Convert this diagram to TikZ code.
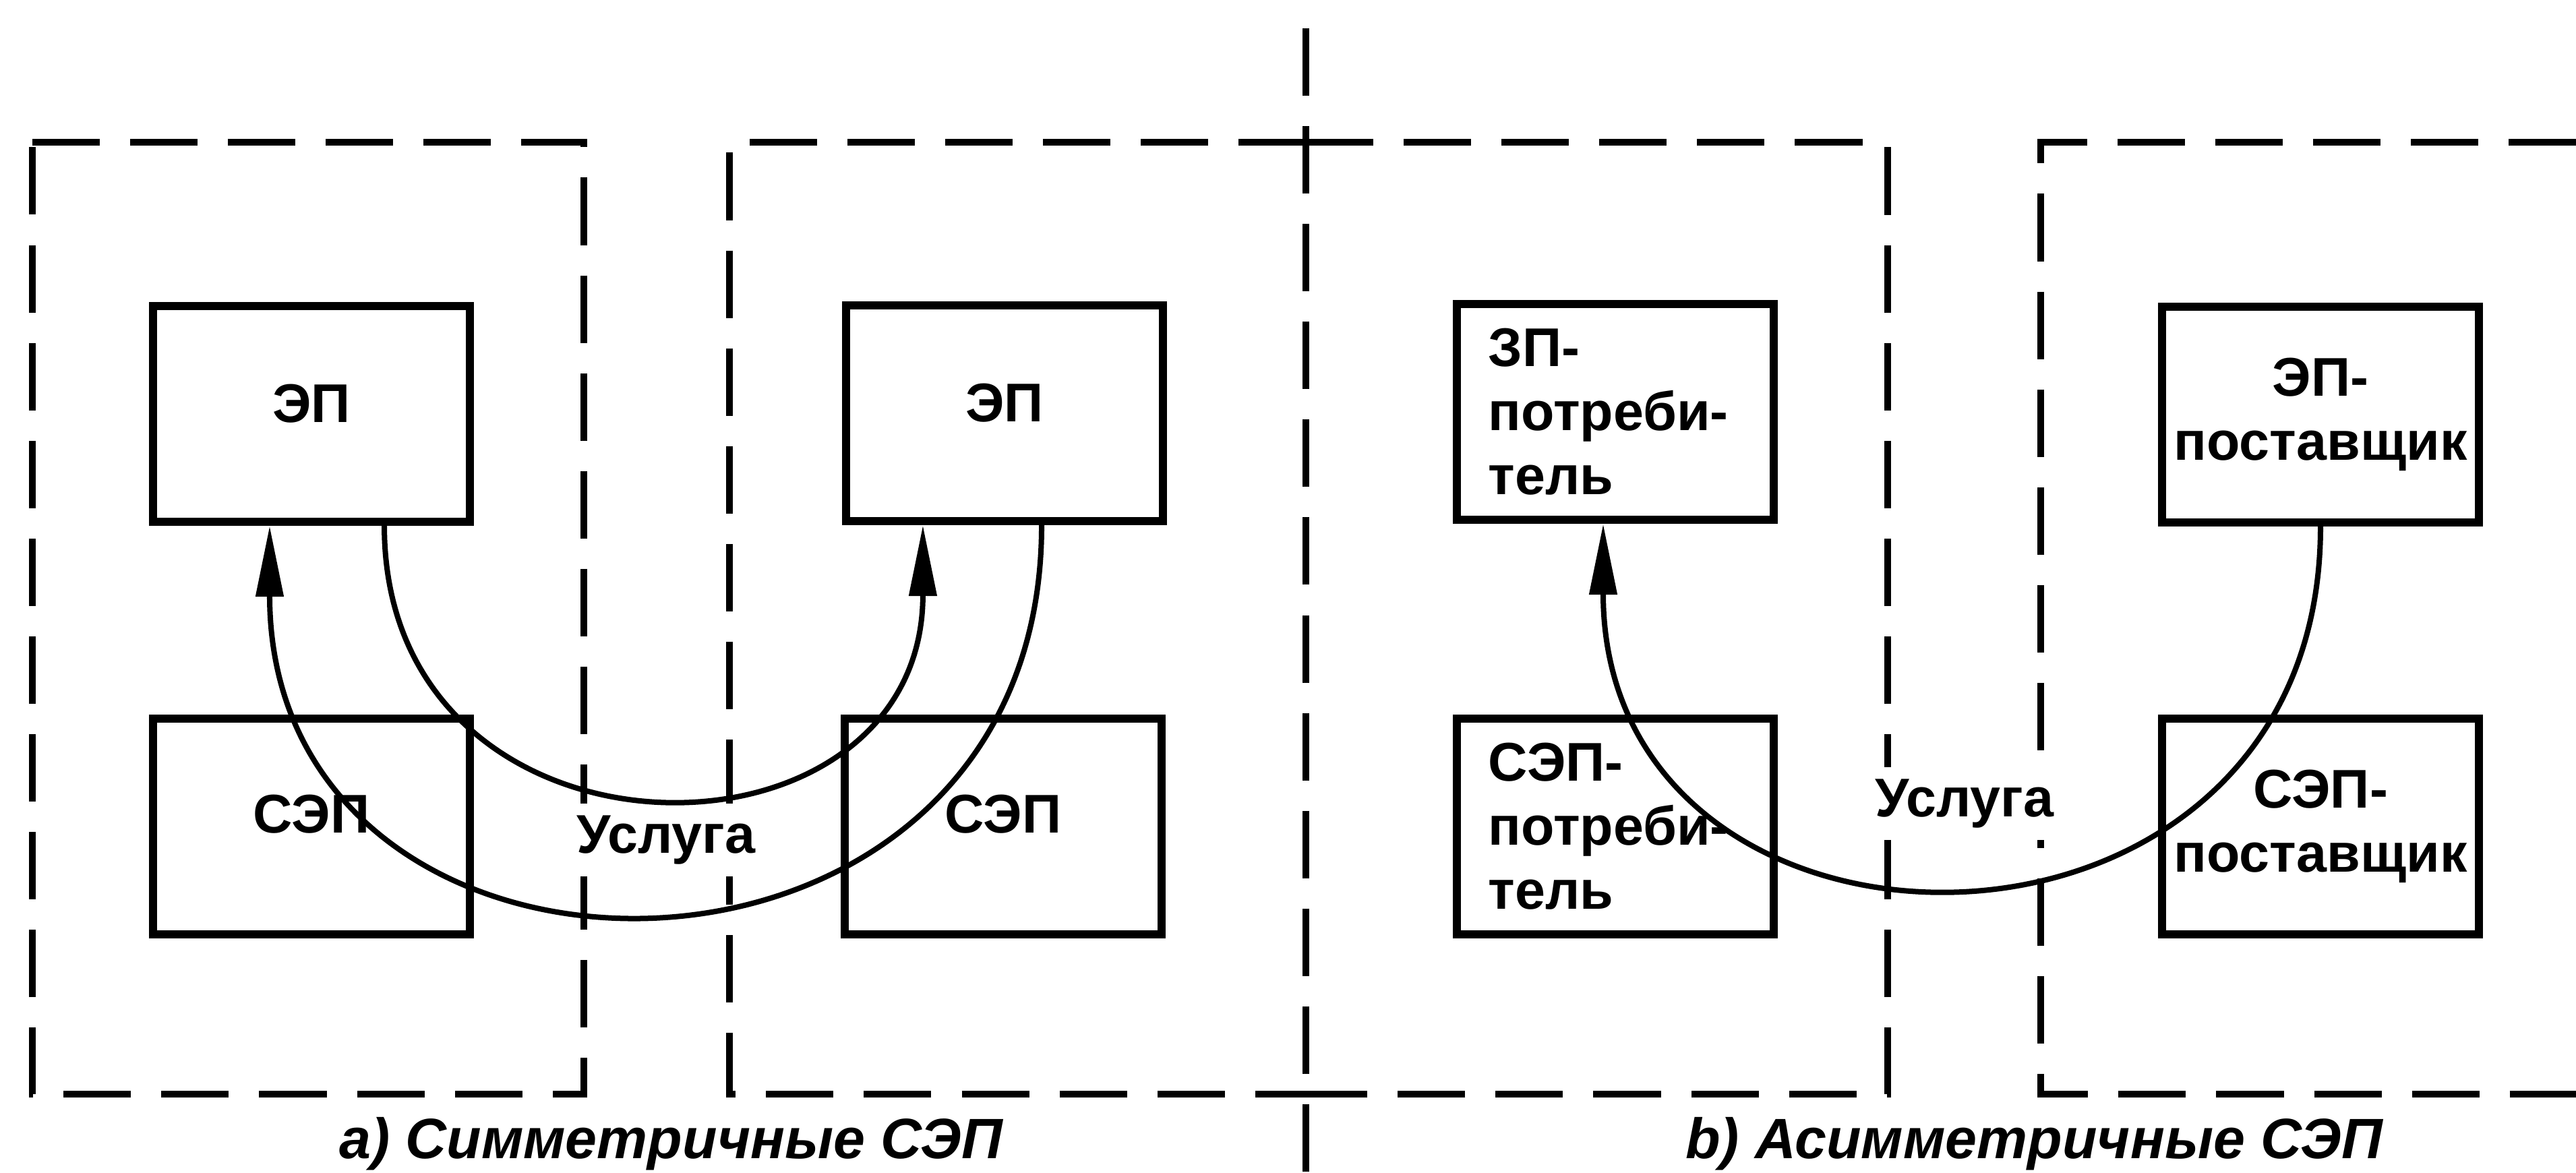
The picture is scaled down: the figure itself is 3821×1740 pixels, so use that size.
\documentclass[tikz,border=0pt]{standalone}
\usepackage{fontspec}
\setmainfont{Liberation Sans}
\usetikzlibrary{arrows.meta}

\begin{document}
\begin{tikzpicture}[x=0.01cm, y=0.01cm,
    blk/.style={draw, line width=0.12cm, minimum width=4.7cm, minimum height=3.2cm,
      inner sep=0pt, font=\bfseries\fontsize{23}{27}\selectfont},
    area/.style={line width=0.1cm, dash pattern=on 1cm off 0.45cm},
    svc/.style={line width=0.08cm, -{Triangle[length=1.05cm,width=0.4cm]}},
    lbl/.style={fill=white, inner xsep=2pt, inner ysep=5pt,
      font=\bfseries\fontsize{23}{27}\selectfont},
    capt/.style={font=\bfseries\itshape\fontsize{24}{29}\selectfont}]
        \useasboundingbox (0,0) rectangle (3821,-1740);

        \draw[area] (48,-211) -- (866,-211) -- (866,-1623) -- (48,-1623) -- cycle;
        \draw[area] (1937,-42) -- (1937,-1740);
        \draw[area] (1937,-211) -- (1082,-211) -- (1082,-1623) -- (1937,-1623);
        \draw[area] (1937,-211) -- (2800,-211) -- (2800,-1623) -- (1937,-1623);
        \draw[area] (3821,-211) -- (3027,-211) -- (3027,-1623) -- (3821,-1623);

        \node[blk, text depth=0.32cm] (ep1) at (462,-614) {ЭП};
        \node[blk, text depth=0.38cm] (sep1) at (462,-1226) {СЭП};
        \node[blk, text depth=0.32cm] (ep2) at (1490,-613) {ЭП};
        \node[blk, text depth=0.38cm] (sep2) at (1488,-1226) {СЭП};
        \node[blk, text width=3.76cm, align=left] (epc) at (2396,-611) {ЗП-\\потреби-\\тель};
        \node[blk, align=center] (epp) at (3442,-615) {ЭП-\\поставщик};
        \node[blk, text width=3.76cm, align=left] (sepc) at (2396,-1226) {СЭП-\\потреби-\\тель};
        \node[blk, align=center] (sepp) at (3442,-1226) {СЭП-\\поставщик};

        \node[lbl] (usl1) at (988,-1246) {Услуга};
        \node[lbl] (usl2) at (2914,-1192) {Услуга};

        \draw[svc] ([xshift=0.55cm]ep2.south) to[out=-90, in=-90, looseness=1.7] ([xshift=-0.62cm]ep1.south);
        \draw[svc] ([xshift=1.08cm]ep1.south) to[out=-90, in=-90, looseness=1.7] ([xshift=-1.21cm]ep2.south);
        \draw[svc] (epp.south) to[out=-90, in=-90, looseness=1.7] ([xshift=-0.18cm]epc.south);

        \node[capt] (capa) at (995,-1697) {a) Симметричные СЭП};
        \node[capt] (capb) at (3017,-1697) {b) Асимметричные СЭП};
\end{tikzpicture}
\end{document}
